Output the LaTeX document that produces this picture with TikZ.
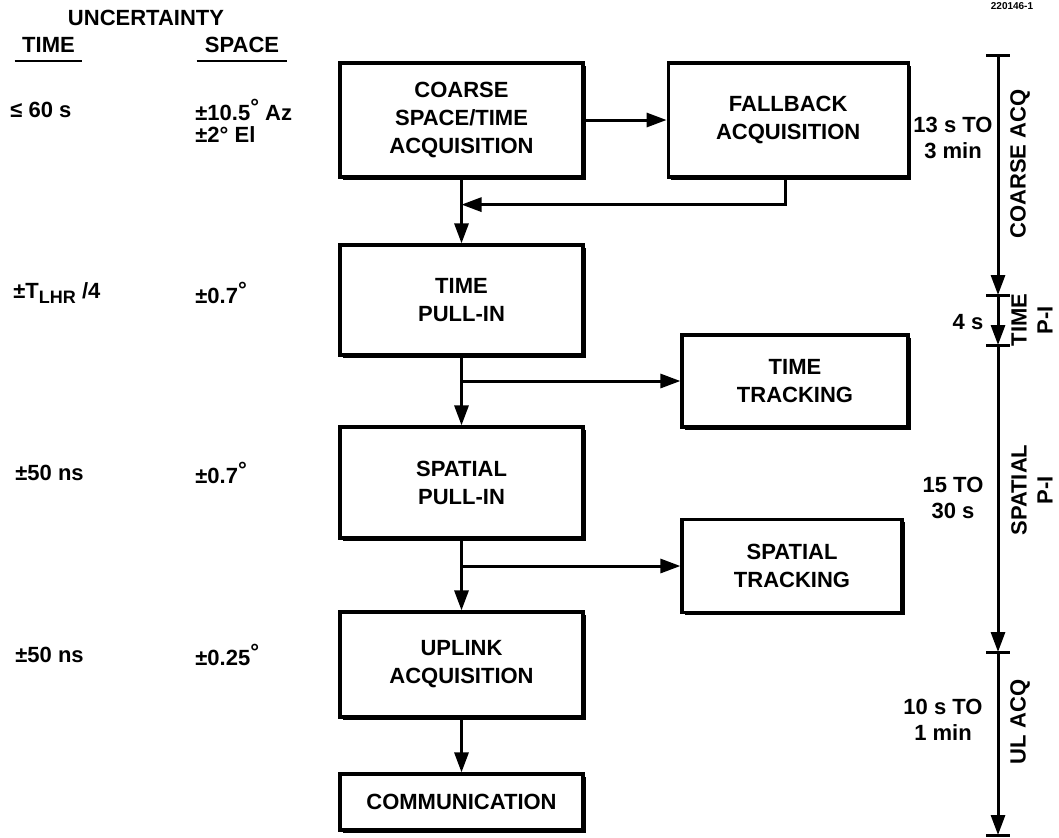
\documentclass[tikz,border=0pt]{standalone}
\usepackage{fontspec}
\setmainfont{Liberation Sans}
\usetikzlibrary{positioning,arrows.meta,shadows}
\newcommand{\updeg}{\raisebox{0.45ex}{°}}

\begin{document}
\begin{tikzpicture}[
  x=0.5pt, y=-0.5pt,
  box/.style={draw, line width=1.6pt, fill=white, align=center, inner sep=2pt,
    font=\fontsize{11}{14}\selectfont\bfseries, minimum width=121.5pt, minimum height=57pt,
    drop shadow={shadow xshift=1.3pt, shadow yshift=-1.3pt, opacity=1, fill=black}},
  arr/.style={-{Triangle[length=10pt,width=7pt]}, line width=1.5pt},
  lbl/.style={font=\fontsize{11}{13}\selectfont\bfseries, inner sep=0pt, align=center},
  node distance=32.4pt
]
  \useasboundingbox (0,0) rectangle (1059,837);

  % main chain
  \node[box] (coarse) at (461.5,120) {COARSE\\SPACE/TIME\\ACQUISITION};
  \node[box, minimum width=120pt, right=41pt of coarse] (fallback) {FALLBACK\\ACQUISITION};
  \node[box, minimum height=55pt, below=of coarse] (timepull) {TIME\\PULL-IN};
  \node[box, minimum height=55.5pt, below=34.4pt of timepull] (spatpull) {SPATIAL\\PULL-IN};
  \node[box, minimum height=52.5pt, below=35.4pt of spatpull] (uplink) {UPLINK\\ACQUISITION};
  \node[box, minimum height=28pt, below=26.9pt of uplink] (comm) {COMMUNICATION};
  \node[box, minimum width=113pt, minimum height=46pt] (timetrack) at (795,381) {TIME\\TRACKING};
  \node[box, minimum width=110pt, minimum height=46.5pt] (spattrack) at (792,566) {SPATIAL\\TRACKING};

  \path (coarse.south) ++(0,26) coordinate (fbjoin);
  \coordinate (tsplit) at (timepull.south |- timetrack.west);
  \coordinate (ssplit) at (spatpull.south |- spattrack.west);

  \draw[arr] (coarse) -- (fallback);
  \draw[arr] (coarse) -- (timepull);
  \draw[arr] ([xshift=-1.5pt]fallback.south) |- (fbjoin);
  \draw[arr] (timepull) -- (spatpull);
  \draw[arr] (tsplit) -- (timetrack);
  \draw[arr] (spatpull) -- (uplink);
  \draw[arr] (ssplit) -- (spattrack);
  \draw[arr] (uplink) -- (comm);

  % uncertainty columns
  \node[lbl] (unc) at (146,18) {UNCERTAINTY};
  \node[lbl, anchor=south, minimum width=33.5pt, inner ysep=4pt] (timehd) at (48.5,61) {TIME};
  \node[lbl, anchor=south, minimum width=45pt, inner ysep=4pt] (spacehd) at (242,61) {SPACE};
  \draw[line width=1.2pt] (timehd.south west) -- (timehd.south east);
  \draw[line width=1.2pt] (spacehd.south west) -- (spacehd.south east);

  \node[lbl, anchor=west] (tcoarse) at (10,110) {≤ 60 s};
  \node[lbl, anchor=west] (azcoarse) at (195,110) {±10.5\updeg{} Az};
  \node[lbl, anchor=west] (elcoarse) at (195,135) {±2° El};
  \node[lbl, anchor=west] (ttime) at (13,293) {±T\raisebox{-0.5ex}{\fontsize{9}{9}\selectfont LHR} /4};
  \node[lbl, anchor=west] (stime) at (195,293) {±0.7\updeg};
  \node[lbl, anchor=west] (tspat) at (15,473) {±50 ns};
  \node[lbl, anchor=west] (sspat) at (195,473) {±0.7\updeg};
  \node[lbl, anchor=west] (tul) at (15,655) {±50 ns};
  \node[lbl, anchor=west] (sul) at (195,655) {±0.25\updeg};

  % timeline
  \foreach \n/\y in {0/55,1/295,2/345,3/652,4/835}
    \coordinate (tl\n) at (998,\y);
  \foreach \a/\b in {0/1,1/2,2/3,3/4}
    \draw[arr] (tl\a) -- (tl\b);
  \foreach \n in {0,...,4}
    \draw[line width=1.5pt] ([xshift=-6pt]tl\n) -- ([xshift=6pt]tl\n);

  \node[lbl, rotate=90] (coarseacq) at (1020,164) {COARSE ACQ};
  \node[lbl, rotate=90] (timepi) at (1032,320) {TIME\\P-I};
  \node[lbl, rotate=90] (spatpi) at (1032,490) {SPATIAL\\P-I};
  \node[lbl, rotate=90] (ulacq) at (1020,722) {UL ACQ};

  \node[lbl] (dcoarse) at (953,138) {13 s TO\\3 min};
  \node[lbl] (dtime) at (968,322) {4 s};
  \node[lbl] (dspat) at (953,498) {15 TO\\30 s};
  \node[lbl] (dul) at (943,720) {10 s TO\\1 min};

  \node[font=\fontsize{5}{5}\selectfont\bfseries, inner sep=0pt] (fignum) at (1012,6) {220146-1};
\end{tikzpicture}
\end{document}
